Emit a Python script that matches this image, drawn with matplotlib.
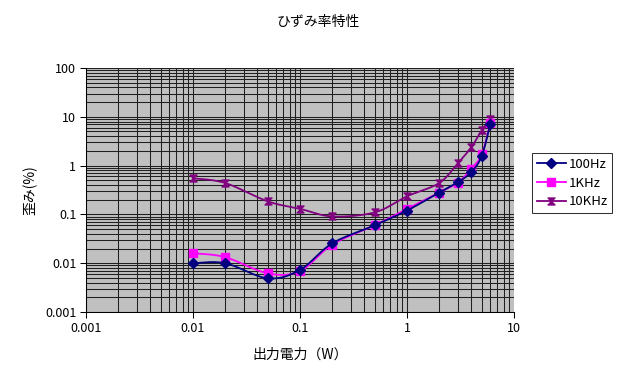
import numpy as np
import matplotlib
matplotlib.use("Agg")
import matplotlib.pyplot as plt
from matplotlib.path import Path
from matplotlib.ticker import LogLocator, FixedLocator, FixedFormatter, NullFormatter

plt.rcParams['font.family'] = ['Noto Sans CJK JP', 'DejaVu Sans']

title = "ひずみ率特性"
xlabel = "出力電力（W）"
ylabel = "歪み(%)"

power = [0.01, 0.02, 0.05, 0.1, 0.2, 0.5, 1, 2, 3, 4, 5, 6]
dist_100hz = [0.010, 0.010, 0.0049, 0.0073, 0.0255, 0.060, 0.12, 0.28, 0.46, 0.74, 1.58, 7.1]
dist_1khz = [0.016, 0.0133, 0.0062, 0.0069, 0.024, 0.060, 0.13, 0.28, 0.45, 0.87, 1.7, 7.4]
dist_10khz = [0.55, 0.44, 0.185, 0.13, 0.091, 0.11, 0.235, 0.44, 1.13, 2.4, 5.3, 9.1]

series_names = ["100Hz", "1KHz", "10KHz"]

x_ticks = [0.001, 0.01, 0.1, 1, 10]
x_ticklabels = ["0.001", "0.01", "0.1", "1", "10"]
y_ticks = [0.001, 0.01, 0.1, 1, 10, 100]
y_ticklabels = ["0.001", "0.01", "0.1", "1", "10", "100"]


def smooth(xs, ys, n=30):
    # Catmull-Rom style smoothing in log-log display space (like Excel smoothed lines)
    lx = np.log10(xs)
    ly = np.log10(ys)
    P = np.column_stack([lx, ly])
    pts = [P[0]]
    for i in range(len(P) - 1):
        p0 = P[i - 1] if i > 0 else P[i]
        p1 = P[i]
        p2 = P[i + 1]
        p3 = P[i + 2] if i + 2 < len(P) else P[i + 1]
        c1 = p1 + (p2 - p0) / 6.0
        c2 = p2 - (p3 - p1) / 6.0
        t = np.linspace(0, 1, n)[1:, None]
        b = ((1 - t) ** 3) * p1 + 3 * ((1 - t) ** 2) * t * c1 + 3 * (1 - t) * t ** 2 * c2 + t ** 3 * p2
        pts.extend(b)
    pts = np.array(pts)
    return 10 ** pts[:, 0], 10 ** pts[:, 1]


hourglass = Path([(-1, 1), (1, 1), (-1, -1), (1, -1), (-1, 1)],
                 [Path.MOVETO, Path.LINETO, Path.LINETO, Path.LINETO, Path.CLOSEPOLY])

fig = plt.figure(figsize=(6.32, 3.72), dpi=100)
fig.patch.set_facecolor("white")
ax = fig.add_axes([86 / 632, 1 - 312 / 372, (514 - 86) / 632, (312 - 68) / 372])
ax.set_facecolor("#C0C0C0")
ax.set_xscale("log")
ax.set_yscale("log")
ax.set_xlim(0.001, 10)
ax.set_ylim(0.001, 100)

styles = [
    (dist_100hz, "#000080", "D", 5, 5),
    (dist_1khz, "#FF00FF", "s", 5.5, 4),
    (dist_10khz, "#800080", hourglass, 5, 3),
]
for (vals, col, mk, ms, z), name in zip(styles, series_names):
    sx, sy = smooth(power, vals)
    ax.plot(sx, sy, color=col, lw=1.3, zorder=z)
    ax.plot(power, vals, linestyle="none", marker=mk, color=col, markersize=ms, zorder=z + 0.5)
    ax.plot([], [], color=col, lw=1.3, marker=mk, markersize=ms, label=name)

ax.xaxis.set_major_locator(FixedLocator(x_ticks))
ax.xaxis.set_major_formatter(FixedFormatter(x_ticklabels))
ax.yaxis.set_major_locator(FixedLocator(y_ticks))
ax.yaxis.set_major_formatter(FixedFormatter(y_ticklabels))
ax.xaxis.set_minor_locator(LogLocator(base=10, subs=np.arange(2, 10)))
ax.yaxis.set_minor_locator(LogLocator(base=10, subs=np.arange(2, 10)))
ax.xaxis.set_minor_formatter(NullFormatter())
ax.yaxis.set_minor_formatter(NullFormatter())

ax.grid(True, which="both", color="#202020", lw=0.75)
ax.set_axisbelow(True)
ax.tick_params(which="major", direction="out", length=4, width=0.75, labelsize=9, pad=3)
ax.tick_params(which="minor", length=0)
for s in ["top", "right"]:
    ax.spines[s].set_visible(False)
for s in ["left", "bottom"]:
    ax.spines[s].set_color("black")
    ax.spines[s].set_linewidth(0.75)

fig.text(318 / 632, 1 - 22 / 372, title, ha="center", va="center", fontsize=10)
fig.text(300 / 632, 1 - 355 / 372, xlabel, ha="center", va="center", fontsize=10)
fig.text(30 / 632, 1 - 190 / 372, ylabel, ha="center", va="center", fontsize=10, rotation=90)

leg = fig.legend(loc="upper left", bbox_to_anchor=(532 / 632, 1 - 153 / 372),
                 frameon=True, fancybox=False, edgecolor="black", fontsize=9.5,
                 handlelength=2.2, borderpad=0.35, labelspacing=0.45, handletextpad=0.2,
                 borderaxespad=0)
leg.get_frame().set_linewidth(0.75)

fig.savefig("out.png", dpi=100, facecolor="white")
